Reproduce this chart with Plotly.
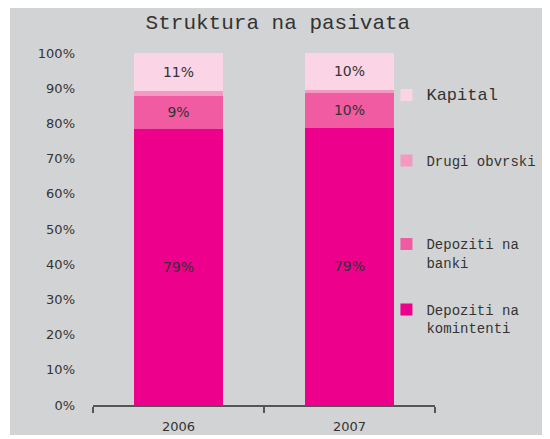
import plotly.graph_objects as go

years = ["2006", "2007"]
komintenti = [78.4, 78.8]
banki = [9.4, 9.9]
drugi = [1.3, 0.8]
kapital = [10.9, 10.5]
lbl_komintenti = ["79%", "79%"]
lbl_banki = ["9%", "10%"]
lbl_kapital = ["11%", "10%"]
y_ticks = list(range(0, 101, 10))
y_ticktext = [f"{v}%" for v in y_ticks]

names = ["Depoziti na<br>komintenti", "Depoziti na<br>banki", "Drugi obvrski<br>&nbsp;<br>&nbsp;",
         '<span style="font-size:17px">Kapital</span><br>&nbsp;']
ranks = [4, 3, 2, 1]
colors = ["#EC008C", "#F05BA1", "#F49AC2", "#FBD4E5"]
series = [komintenti, banki, drugi, kapital]
labels = [lbl_komintenti, lbl_banki, None, lbl_kapital]

fig = go.Figure()
for i, (nm, col, vals, lab, rk) in enumerate(zip(names, colors, series, labels, ranks)):
    fig.add_trace(go.Bar(
        x=years, y=vals, name=nm, marker=dict(color=col, line=dict(width=0)),
        text=lab if lab else None,
        textposition="inside" if lab else "none",
        insidetextanchor="middle",
        textangle=0,
        textfont=dict(family="DejaVu Sans", size=14, color="#333333"),
        legendgroup=f"g{i}", legendrank=rk,
        hoverinfo="skip",
    ))

L, T, B, W, H = 85, 45, 34, 542, 431
PW = 342
PH = H - T - B

fig.update_layout(
    width=W, height=H,
    barmode="stack", bargap=0.474,
    paper_bgcolor="white", plot_bgcolor="rgba(0,0,0,0)",
    margin=dict(l=L, r=W - L - PW, t=T, b=B, autoexpand=False),
    title=dict(text="Struktura na pasivata", x=0.498, xanchor="center",
               y=0.9675, yanchor="middle",
               font=dict(family="Liberation Mono", size=21, color="#333333")),
    showlegend=True,
    legend=dict(x=0.858, xanchor="left", y=0.925, yanchor="top",
                bgcolor="rgba(0,0,0,0)", traceorder="grouped",
                tracegroupgap=26, valign="top",
                font=dict(family="Liberation Mono", size=14, color="#333333")),
    uniformtext=dict(minsize=10, mode="show"),
    shapes=[dict(type="rect", xref="paper", yref="paper",
                 x0=(2 - L) / PW, x1=(540 - L) / PW,
                 y0=-30 / PH, y1=(PH + T + 3) / PH,
                 fillcolor="#D2D3D5", line=dict(width=0), layer="below")],
)
fig.update_xaxes(type="category", showline=True, linecolor="#555555", linewidth=2,
                 ticks="outside", tickson="boundaries", ticklen=6, tickcolor="#555555",
                 tickwidth=2, showgrid=False, ticklabelstandoff=8,
                 tickfont=dict(family="DejaVu Sans", size=13, color="#333333"))
fig.update_yaxes(range=[0, 100], tickmode="array", tickvals=y_ticks, ticktext=y_ticktext,
                 showgrid=False, showline=False, zeroline=False, ticks="",
                 ticklabelstandoff=17,
                 tickfont=dict(family="DejaVu Sans", size=13, color="#333333"))

fig.write_html("out.html")
